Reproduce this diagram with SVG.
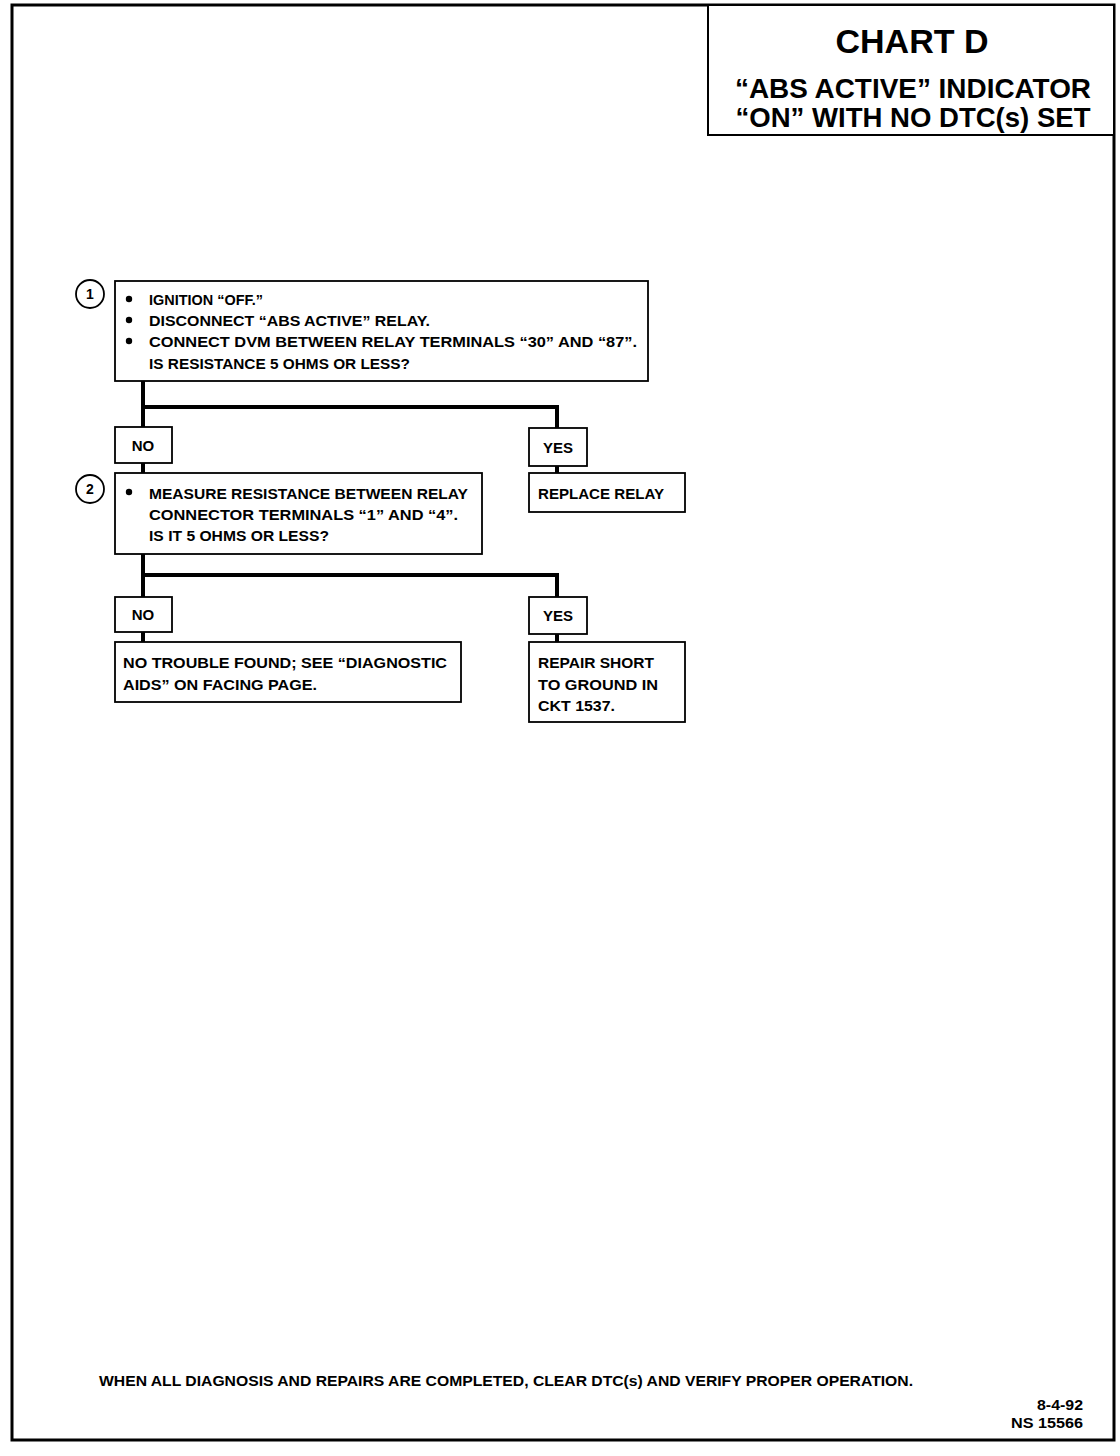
<svg xmlns="http://www.w3.org/2000/svg" width="1120" height="1456" viewBox="0 0 1120 1456">
<style>
text{font-family:"Liberation Sans",Arial,sans-serif;font-weight:bold;fill:#000}
.t{font-size:15px}
.box{fill:#fff;stroke:#000;stroke-width:1.8}
.conn{fill:none;stroke:#000;stroke-width:4}
.bul{fill:#000}
</style>
<rect x="0" y="0" width="1120" height="1456" fill="#fff"/>
<g id="frame">
<path d="M12 1440 V5 H1114 V1440 Z" fill="none" stroke="#000" stroke-width="3"/>
</g>
<g id="title">
<rect x="708" y="5" width="406" height="130" fill="#fff" stroke="#000" stroke-width="2"/>
<text x="912" y="53" text-anchor="middle" font-size="34">CHART D</text>
<text x="913" y="98" text-anchor="middle" font-size="28" textLength="356" lengthAdjust="spacingAndGlyphs">“ABS ACTIVE” INDICATOR</text>
<text x="913" y="127" text-anchor="middle" font-size="28" textLength="355" lengthAdjust="spacingAndGlyphs">“ON” WITH NO DTC(s) SET</text>
</g>
<g id="connectors">
<path class="conn" d="M143 381 V427 M143 407 H557 V428"/>
<path class="conn" d="M143 463 V473"/>
<path class="conn" d="M557 466 V473"/>
<path class="conn" d="M143 554 V597 M143 575 H557 V597"/>
<path class="conn" d="M143 632 V642"/>
<path class="conn" d="M557 634 V642"/>
</g>
<g id="step1">
<circle cx="90" cy="294" r="14" fill="#fff" stroke="#000" stroke-width="1.8"/>
<text x="90" y="299" text-anchor="middle" font-size="14">1</text>
<rect class="box" x="115" y="281" width="533" height="100"/>
<circle class="bul" cx="129" cy="299" r="3.2"/>
<circle class="bul" cx="129" cy="320" r="3.2"/>
<circle class="bul" cx="129" cy="341" r="3.2"/>
<text class="t" x="149" y="305" textLength="114" lengthAdjust="spacingAndGlyphs">IGNITION “OFF.”</text>
<text class="t" x="149" y="326" textLength="281" lengthAdjust="spacingAndGlyphs">DISCONNECT “ABS ACTIVE” RELAY.</text>
<text class="t" x="149" y="347" textLength="488" lengthAdjust="spacingAndGlyphs">CONNECT DVM BETWEEN RELAY TERMINALS “30” AND “87”.</text>
<text class="t" x="149" y="369" textLength="261" lengthAdjust="spacingAndGlyphs">IS RESISTANCE 5 OHMS OR LESS?</text>
</g>
<g id="no1">
<rect class="box" x="115" y="427" width="57" height="36"/>
<text class="t" x="143" y="451" text-anchor="middle">NO</text>
</g>
<g id="yes1">
<rect class="box" x="529" y="428" width="58" height="38"/>
<text class="t" x="558" y="453" text-anchor="middle">YES</text>
</g>
<g id="replace">
<rect class="box" x="529" y="473" width="156" height="39"/>
<text class="t" x="538" y="499" textLength="126" lengthAdjust="spacingAndGlyphs">REPLACE RELAY</text>
</g>
<g id="step2">
<circle cx="90" cy="489" r="14" fill="#fff" stroke="#000" stroke-width="1.8"/>
<text x="90" y="494" text-anchor="middle" font-size="14">2</text>
<rect class="box" x="115" y="473" width="367" height="81"/>
<circle class="bul" cx="129" cy="492" r="3.2"/>
<text class="t" x="149" y="499" textLength="319" lengthAdjust="spacingAndGlyphs">MEASURE RESISTANCE BETWEEN RELAY</text>
<text class="t" x="149" y="520" textLength="309" lengthAdjust="spacingAndGlyphs">CONNECTOR TERMINALS “1” AND “4”.</text>
<text class="t" x="149" y="541" textLength="180" lengthAdjust="spacingAndGlyphs">IS IT 5 OHMS OR LESS?</text>
</g>
<g id="no2">
<rect class="box" x="115" y="597" width="57" height="35"/>
<text class="t" x="143" y="620" text-anchor="middle">NO</text>
</g>
<g id="yes2">
<rect class="box" x="529" y="597" width="58" height="37"/>
<text class="t" x="558" y="621" text-anchor="middle">YES</text>
</g>
<g id="notrouble">
<rect class="box" x="115" y="642" width="346" height="60"/>
<text class="t" x="123" y="668" textLength="324" lengthAdjust="spacingAndGlyphs">NO TROUBLE FOUND;  SEE “DIAGNOSTIC</text>
<text class="t" x="123" y="690" textLength="194" lengthAdjust="spacingAndGlyphs">AIDS” ON FACING PAGE.</text>
</g>
<g id="repair">
<rect class="box" x="529" y="642" width="156" height="80"/>
<text class="t" x="538" y="668" textLength="116" lengthAdjust="spacingAndGlyphs">REPAIR SHORT</text>
<text class="t" x="538" y="690" textLength="120" lengthAdjust="spacingAndGlyphs">TO GROUND IN</text>
<text class="t" x="538" y="711" textLength="77" lengthAdjust="spacingAndGlyphs">CKT 1537.</text>
</g>
<g id="footer">
<text class="t" x="99" y="1386" textLength="814" lengthAdjust="spacingAndGlyphs">WHEN ALL DIAGNOSIS AND REPAIRS ARE COMPLETED, CLEAR DTC(s) AND VERIFY PROPER OPERATION.</text>
<text x="1083" y="1410" text-anchor="end" font-size="14" textLength="46" lengthAdjust="spacingAndGlyphs">8-4-92</text>
<text x="1083" y="1428" text-anchor="end" font-size="14" textLength="72" lengthAdjust="spacingAndGlyphs">NS 15566</text>
</g>
</svg>
